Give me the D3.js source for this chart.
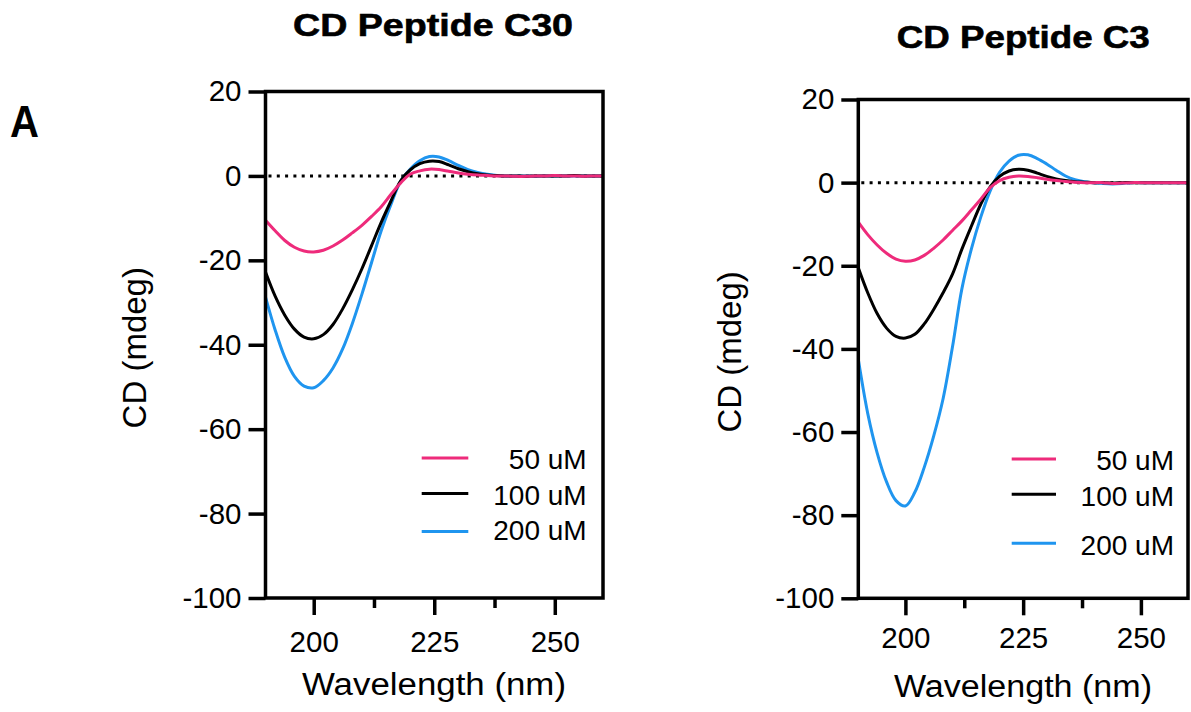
<!DOCTYPE html>
<html>
<head>
<meta charset="utf-8">
<script src="https://cdn.jsdelivr.net/npm/d3@7/dist/d3.min.js"></script>
<style>
  html, body { margin: 0; padding: 0; background: #ffffff; }
  svg { display: block; }
  text { font-family: "Liberation Sans", Arial, Helvetica, sans-serif; fill: #000; }
</style>
</head>
<body>
<svg id="chart" width="1191" height="712"></svg>
<script>
// Wavelength grid (nm)
const wavelengths = [190, 192, 194, 196, 198, 200, 202, 204, 206, 208, 210, 212,
                     214, 216, 218, 220, 222, 224, 226, 228, 230, 232, 234, 236,
                     238, 240, 242, 244, 246, 248, 250, 252, 254, 256, 258, 260];

// Peptide C30, CD signal (mdeg)
const c30_50uM  = [-10.5, -13.0, -15.3, -16.9, -17.8, -18.0, -17.6, -16.6, -15.2, -13.5, -11.7, -9.6,
                   -7.3, -4.4, -1.7, 0.4, 1.2, 1.6, 1.5, 1.1, 0.7, 0.4, 0.2, 0.1,
                   0.0, 0.0, -0.1, -0.1, 0.0, 0.0, 0.1, 0.0, 0.0, -0.1, 0.0, 0.0];
const c30_100uM = [-22.8, -28.5, -33.0, -36.3, -38.2, -38.6, -37.6, -35.2, -31.5, -27.0, -22.0, -16.5,
                   -11.0, -6.0, -1.2, 1.4, 2.9, 3.5, 3.4, 2.6, 1.7, 1.0, 0.5, 0.2,
                   0.1, 0.0, 0.0, -0.1, 0.0, 0.0, 0.0, 0.0, 0.1, 0.0, 0.0, 0.0];
const c30_200uM = [-28.7, -36.5, -43.0, -47.5, -49.8, -50.2, -48.5, -45.5, -41.0, -35.0, -28.0, -20.5,
                   -13.0, -6.8, -1.3, 1.6, 3.6, 4.6, 4.5, 3.6, 2.5, 1.5, 0.8, 0.4,
                   0.1, 0.0, 0.0, 0.0, -0.1, 0.0, 0.0, 0.0, 0.0, 0.0, 0.0, 0.0];

// Peptide C3, CD signal (mdeg)
const c3_50uM  = [-9.5, -12.5, -15.0, -17.0, -18.4, -18.9, -18.6, -17.5, -15.8, -13.8, -11.5, -9.2,
                  -6.6, -4.0, -1.2, 0.5, 1.3, 1.6, 1.5, 1.2, 0.8, 0.5, 0.3, 0.1,
                  0.0, 0.0, 0.0, -0.2, -0.1, 0.0, 0.0, 0.0, 0.0, 0.0, 0.0, 0.0];
const c3_100uM = [-20.5, -26.5, -31.5, -35.0, -37.0, -37.4, -36.5, -34.0, -30.5, -26.5, -22.0, -16.0,
                  -10.5, -5.2, -1.0, 1.5, 2.8, 3.2, 3.0, 2.3, 1.5, 0.9, 0.5, 0.2,
                  0.1, 0.0, 0.0, -0.1, 0.0, 0.0, 0.0, 0.0, 0.0, 0.0, 0.0, 0.0];
const c3_200uM = [-42.5, -55.5, -65.0, -72.0, -76.5, -77.8, -74.5, -68.5, -61.0, -52.0, -39.5, -25.5,
                  -16.0, -8.3, -2.0, 2.5, 5.2, 6.6, 6.7, 5.8, 4.5, 3.0, 1.6, 0.7,
                  0.2, 0.0, -0.2, -0.3, -0.2, 0.0, 0.0, 0.0, 0.0, 0.0, 0.0, 0.0];

// Axis ticks and labels
const yTicks = [20, 0, -20, -40, -60, -80, -100];
const xTicks = [200, 225, 250];
const xMinorTicks = [212.5, 237.5];
const concentrations = ["50 uM", "100 uM", "200 uM"];
const seriesColors = ["#ee2b7b", "#000000", "#1f95ef"];
const panelTitles = ["CD Peptide C30", "CD Peptide C3"];
const xAxisTitle = "Wavelength (nm)";
const yAxisTitle = "CD (mdeg)";
const panelLetter = "A";

const panels = [
  {
    title: panelTitles[0],
    series: [c30_50uM, c30_100uM, c30_200uM],
    x0: 265.5, x1: 603, yTop: 91.5, yBot: 598,
    titleX: 433, titleY: 36, titleLen: 280,
    yLabX: 146, xLabX: 434, xLabY: 695, xLabLen: 264, xTickGap: 54,
    legLine: [421.7, 468.3], legTextX: 586.7,
    legLineY: [458, 493.5, 531.5], legTextY: [469, 505, 539.5]
  },
  {
    title: panelTitles[1],
    series: [c3_50uM, c3_100uM, c3_200uM],
    x0: 858.3, x1: 1188, yTop: 99.5, yBot: 598.3,
    titleX: 1023.3, titleY: 48.3, titleLen: 253,
    yLabX: 741, xLabX: 1023, xLabY: 697, xLabLen: 258, xTickGap: 49.5,
    legLine: [1011.7, 1056], legTextX: 1174,
    legLineY: [459, 494.3, 543.3], legTextY: [470, 505.5, 555]
  }
];

const svg = d3.select("#chart");
svg.append("rect").attr("width", 1191).attr("height", 712).attr("fill", "#fff");

// Panel letter
svg.append("text")
  .attr("x", 10).attr("y", 137)
  .attr("font-size", 44).attr("font-weight", "bold")
  .attr("textLength", 29).attr("lengthAdjust", "spacingAndGlyphs")
  .text(panelLetter);

const AX_W = 3.5;

panels.forEach((p, i) => {
  const x = d3.scaleLinear().domain([190, 260]).range([p.x0, p.x1]);
  const y = d3.scaleLinear().domain([20, -100]).range([p.yTop, p.yBot]);
  const g = svg.append("g");

  const clipId = "clip" + i;
  svg.append("clipPath").attr("id", clipId)
    .append("rect")
    .attr("x", p.x0).attr("y", p.yTop)
    .attr("width", p.x1 - p.x0).attr("height", p.yBot - p.yTop);

  // dotted zero reference line
  g.append("line")
    .attr("x1", x(190) + 3).attr("x2", x(260))
    .attr("y1", y(0)).attr("y2", y(0))
    .attr("stroke", "#000").attr("stroke-width", 3)
    .attr("stroke-dasharray", "3,5.3");

  // spectra, highest concentration drawn first
  const line = d3.line()
    .x((d, k) => x(wavelengths[k]))
    .y(d => y(d))
    .curve(d3.curveCatmullRom.alpha(0.5));
  const curves = g.append("g").attr("clip-path", `url(#${clipId})`);
  [2, 1, 0].forEach(s => {
    curves.append("path")
      .datum(p.series[s])
      .attr("d", line)
      .attr("fill", "none")
      .attr("stroke", seriesColors[s])
      .attr("stroke-width", 3)
      .attr("stroke-linejoin", "round");
  });

  // frame
  g.append("rect")
    .attr("x", p.x0).attr("y", p.yTop)
    .attr("width", p.x1 - p.x0).attr("height", p.yBot - p.yTop)
    .attr("fill", "none").attr("stroke", "#000").attr("stroke-width", AX_W);

  // y axis
  const yAxis = d3.axisLeft(y).tickValues(yTicks).tickSize(17).tickPadding(7)
    .tickFormat(d => String(d));
  const ya = g.append("g").attr("transform", `translate(${p.x0},0)`).call(yAxis);
  ya.select(".domain").remove();
  ya.selectAll(".tick line").attr("stroke-width", AX_W);
  ya.selectAll(".tick text").attr("font-size", 29.5)
    .attr("font-family", "'Liberation Sans', Arial, sans-serif").attr("fill", "#000");

  // x axis, major ticks
  const xAxis = d3.axisBottom(x).tickValues(xTicks).tickSize(17).tickPadding(p.xTickGap - 17 - 21)
    .tickFormat(d => String(d));
  const xa = g.append("g").attr("transform", `translate(0,${p.yBot})`).call(xAxis);
  xa.select(".domain").remove();
  xa.selectAll(".tick line").attr("stroke-width", AX_W);
  xa.selectAll(".tick text").attr("font-size", 29.5)
    .attr("font-family", "'Liberation Sans', Arial, sans-serif").attr("fill", "#000");

  // x axis, minor ticks
  const xMinor = d3.axisBottom(x).tickValues(xMinorTicks).tickSize(10).tickFormat("");
  const xm = g.append("g").attr("transform", `translate(0,${p.yBot})`).call(xMinor);
  xm.select(".domain").remove();
  xm.selectAll(".tick line").attr("stroke-width", AX_W);

  // titles
  g.append("text")
    .attr("x", p.titleX).attr("y", p.titleY)
    .attr("text-anchor", "middle")
    .attr("font-size", 31).attr("font-weight", "bold")
    .attr("stroke", "#000").attr("stroke-width", 0.6)
    .attr("textLength", p.titleLen).attr("lengthAdjust", "spacingAndGlyphs")
    .text(p.title);

  g.append("text")
    .attr("x", p.xLabX).attr("y", p.xLabY)
    .attr("text-anchor", "middle")
    .attr("font-size", 31)
    .attr("textLength", p.xLabLen).attr("lengthAdjust", "spacingAndGlyphs")
    .text(xAxisTitle);

  const yMid = (p.yTop + p.yBot) / 2 + 3;
  g.append("text")
    .attr("transform", `translate(${p.yLabX},${yMid}) rotate(-90)`)
    .attr("text-anchor", "middle")
    .attr("font-size", 33)
    .text(yAxisTitle);

  // legend
  concentrations.forEach((c, s) => {
    g.append("line")
      .attr("x1", p.legLine[0]).attr("x2", p.legLine[1])
      .attr("y1", p.legLineY[s]).attr("y2", p.legLineY[s])
      .attr("stroke", seriesColors[s]).attr("stroke-width", 3);
    g.append("text")
      .attr("x", p.legTextX).attr("y", p.legTextY[s])
      .attr("text-anchor", "end")
      .attr("font-size", 28)
      .text(c);
  });
});
</script>
</body>
</html>
